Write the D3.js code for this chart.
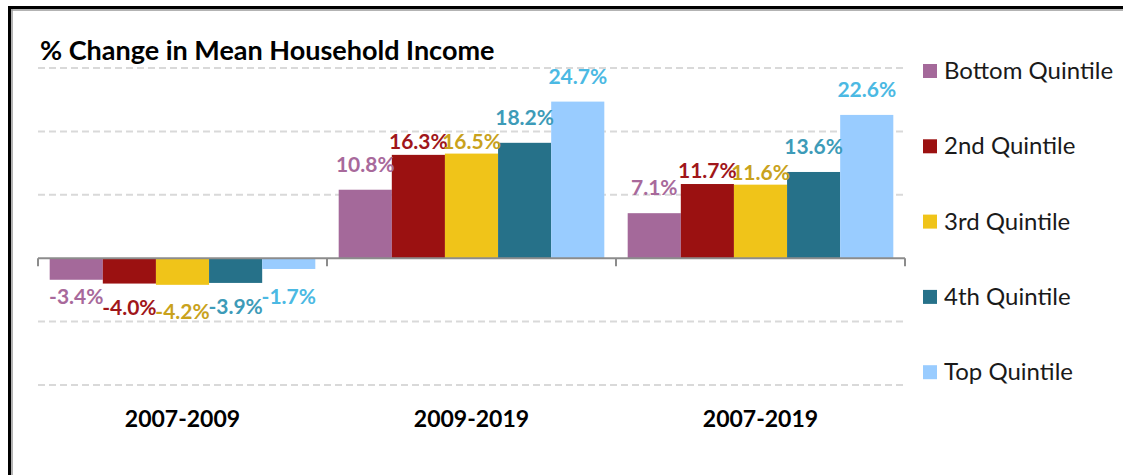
<!DOCTYPE html>
<html>
<head>
<meta charset="utf-8">
<script src="https://cdn.jsdelivr.net/npm/d3@7.9.0/dist/d3.min.js"></script>
<style>
  html, body { margin: 0; padding: 0; background: #fff; }
  svg { display: block; font-family: Lato, "Open Sans", sans-serif; }
</style>
</head>
<body>
<svg id="chart"></svg>
<script>
// periods and quintiles
const periods = ["2007-2009", "2009-2019", "2007-2019"];
const quintiles = ["Bottom Quintile", "2nd Quintile", "3rd Quintile", "4th Quintile", "Top Quintile"];

// % change values, one array per quintile (same order as periods)
const bottomQ = [-3.4, 10.8, 7.1];
const secondQ = [-4.0, 16.3, 11.7];
const thirdQ = [-4.2, 16.5, 11.6];
const fourthQ = [-3.9, 18.2, 13.6];
const topQ = [-1.7, 24.7, 22.6];

const gridTicks = [-20, -10, 0, 10, 20, 30];

const seriesValues = [bottomQ, secondQ, thirdQ, fourthQ, topQ];

// styling per series: bar fill, label colour, label offsets (above / below)
const barColors = ["#a4699a", "#9b1111", "#f0c419", "#267189", "#99ccff"];
const labelColors = ["#a8699b", "#a0161a", "#c9a21c", "#3d9bb8", "#4bb9e3"];
const labelUp = [18, 6, 5, 18, 18];
const labelDown = [24, 31, 34, 31, 35];

const width = 1123, height = 475;
const svg = d3.select("#chart").attr("width", width).attr("height", height);

function addText(g, x, y, str, opts) {
  return g.append("text")
    .attr("x", x).attr("y", y)
    .attr("text-anchor", opts.anchor || "start")
    .attr("font-size", opts.size)
    .attr("font-weight", opts.weight || "normal")
    .attr("fill", opts.fill || "#000")
    .text(str);
}

// frame
svg.append("line").attr("x1", 9.5).attr("x2", 9.5).attr("y1", 6).attr("y2", height)
  .attr("stroke", "#000").attr("stroke-width", 3);
svg.append("line").attr("x1", 8).attr("x2", width).attr("y1", 7.5).attr("y2", 7.5)
  .attr("stroke", "#000").attr("stroke-width", 3);
svg.append("line").attr("x1", 12).attr("x2", 12).attr("y1", 9).attr("y2", height)
  .attr("stroke", "#9a9a9a").attr("stroke-width", 1.5);
svg.append("line").attr("x1", 11).attr("x2", width).attr("y1", 10).attr("y2", 10)
  .attr("stroke", "#9a9a9a").attr("stroke-width", 1.5);

const plot = { left: 38, right: 905, top: 68, bottom: 385 };

const y = d3.scaleLinear().domain([-20, 30]).range([plot.bottom, plot.top]);
const x0 = d3.scaleBand().domain(periods).range([plot.left, plot.right]);
const x1 = d3.scaleBand().domain(quintiles).range([0, x0.bandwidth()])
  .paddingInner(0).paddingOuter(0.22);

// gridlines
svg.append("g").selectAll("line")
  .data(gridTicks.filter(d => d !== 0))
  .join("line")
  .attr("x1", plot.left).attr("x2", plot.right)
  .attr("y1", d => y(d)).attr("y2", d => y(d))
  .attr("stroke", "#d9d9d9").attr("stroke-width", 2)
  .attr("stroke-dasharray", "7,4");

// title
addText(svg, 40, 60, "% Change in Mean Household Income", { size: 27, weight: "bold", fill: "#000" });

// bars
const groups = svg.append("g").selectAll("g")
  .data(periods)
  .join("g")
  .attr("transform", d => `translate(${x0(d)},0)`);

groups.selectAll("rect")
  .data((p, i) => quintiles.map((q, k) => ({ q, k, v: seriesValues[k][i] })))
  .join("rect")
  .attr("x", d => x1(d.q))
  .attr("width", x1.bandwidth())
  .attr("y", d => y(Math.max(0, d.v)))
  .attr("height", d => Math.abs(y(d.v) - y(0)))
  .attr("fill", d => barColors[d.k]);

// zero axis with ticks going down
const axisY = y(0);
svg.append("line").attr("x1", plot.left).attr("x2", plot.right)
  .attr("y1", axisY).attr("y2", axisY)
  .attr("stroke", "#8c8c8c").attr("stroke-width", 2);
svg.append("g").selectAll("line")
  .data(d3.range(periods.length + 1))
  .join("line")
  .attr("x1", i => i < periods.length ? x0(periods[i]) : plot.right)
  .attr("x2", i => i < periods.length ? x0(periods[i]) : plot.right)
  .attr("y1", axisY).attr("y2", axisY + 8)
  .attr("stroke", "#8c8c8c").attr("stroke-width", 2);

// data labels
groups.each(function (p, i) {
  const g = d3.select(this);
  quintiles.forEach((q, k) => {
    const v = seriesValues[k][i];
    const cx = x1(q) + x1.bandwidth() / 2;
    const ly = v >= 0 ? y(v) - labelUp[k] : y(v) + labelDown[k];
    addText(g, cx, ly, v.toFixed(1) + "%", { size: 21, weight: "bold", fill: labelColors[k], anchor: "middle" });
  });
});

// category labels
periods.forEach(p => {
  addText(svg, x0(p) + x0.bandwidth() / 2, 427, p, { size: 23, weight: "bold", fill: "#000", anchor: "middle" });
});

// legend
const legend = svg.append("g");
quintiles.forEach((q, k) => {
  const ly = 71 + k * 75.3;
  legend.append("rect").attr("x", 923).attr("y", ly - 7).attr("width", 14).attr("height", 14)
    .attr("fill", barColors[k]);
  addText(legend, 944, ly + 8, q, { size: 24, fill: "#1a1a1a" });
});
</script>
</body>
</html>
